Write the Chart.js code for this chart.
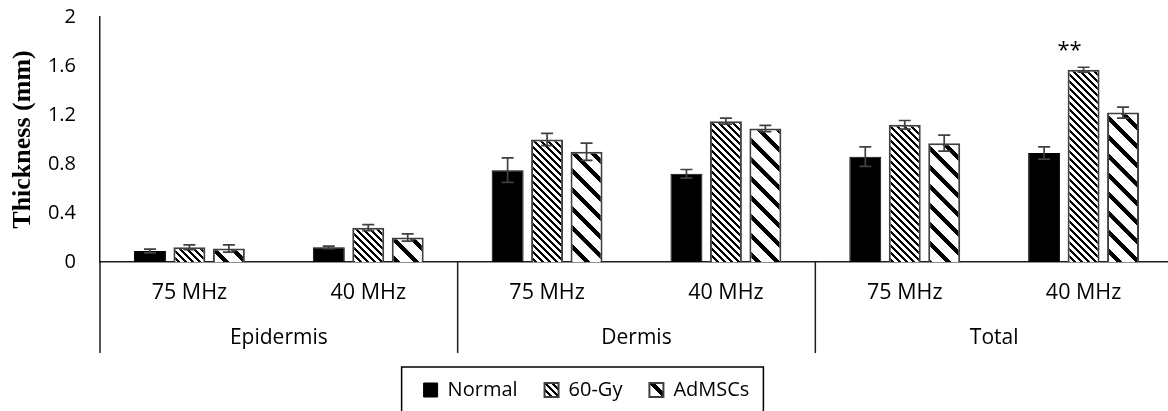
<!DOCTYPE html>
<html>
<head>
<meta charset="utf-8">
<script src="https://cdn.jsdelivr.net/npm/chart.js@4.4.0/dist/chart.umd.min.js"></script>
<style>
  html, body { margin: 0; padding: 0; background: #fff; overflow: hidden; }
  #wrap { width: 1173px; height: 420px; }
</style>
</head>
<body>
<div id="wrap"><canvas id="thick" width="1173" height="420"></canvas></div>
<script>
/* ── data ── */
const subLabels   = ['75 MHz', '40 MHz', '75 MHz', '40 MHz', '75 MHz', '40 MHz'];
const groupLabels = ['Epidermis', 'Dermis', 'Total'];
const yTickLabels = ['0', '0.4', '0.8', '1.2', '1.6', '2'];

const normalVals = [0.09, 0.12, 0.75, 0.72, 0.86, 0.89];
const gyVals     = [0.12, 0.28, 1.00, 1.15, 1.12, 1.57];
const admscVals  = [0.11, 0.20, 0.90, 1.09, 0.97, 1.22];

const normalErr = [0.015, 0.01, 0.10, 0.035, 0.08, 0.05];
const gyErr     = [0.02, 0.025, 0.05, 0.025, 0.035, 0.02];
const admscErr  = [0.03, 0.03, 0.07, 0.025, 0.065, 0.045];

// which bar carries the "**" mark: [dataset, index]
const starMark = [1, 5];

const LINE = '#1e1e1e';
const EDGE = '#404040';
const SANS = "'Open Sans', 'Noto Sans', sans-serif";

/* ── hatch patterns (downward diagonal) ── */
const canvas = document.getElementById('thick');
const mainCtx = canvas.getContext('2d');
function hatch(period, thick) {
  const tile = document.createElement('canvas');
  tile.width = tile.height = period;
  const t = tile.getContext('2d');
  const img = t.createImageData(period, period);
  for (let y = 0; y < period; y++) {
    for (let x = 0; x < period; x++) {
      const k = (((x - y) % period) + period) % period;
      const v = k < thick ? 0 : 255;
      const o = (y * period + x) * 4;
      img.data[o] = img.data[o + 1] = img.data[o + 2] = v;
      img.data[o + 3] = 255;
    }
  }
  t.putImageData(img, 0, 0);
  return mainCtx.createPattern(tile, 'repeat');
}
const densePat = hatch(7, 3);
const widePat  = hatch(19, 6);

/* ── error bars + significance mark ── */
const errorBars = {
  id: 'errorBars',
  afterDatasetsDraw(chart) {
    const ctx = chart.ctx, y = chart.scales.y;
    ctx.save();
    ctx.strokeStyle = EDGE;
    ctx.lineWidth = 1.7;
    chart.data.datasets.forEach((ds, di) => {
      const meta = chart.getDatasetMeta(di);
      meta.data.forEach((bar, i) => {
        const v = ds.data[i], e = ds.errors[i];
        const top = y.getPixelForValue(v + e), bot = y.getPixelForValue(v - e);
        const cx = bar.x, half = 6;
        ctx.beginPath();
        ctx.moveTo(cx, top); ctx.lineTo(cx, bot);
        ctx.moveTo(cx - half, top); ctx.lineTo(cx + half, top);
        ctx.moveTo(cx - half, bot); ctx.lineTo(cx + half, bot);
        ctx.stroke();
      });
    });
    const [sd, si] = starMark;
    const sb = chart.getDatasetMeta(sd).data[si];
    const sds = chart.data.datasets[sd];
    const sy = y.getPixelForValue(sds.data[si] + sds.errors[si]);
    ctx.fillStyle = '#000';
    ctx.font = '22px ' + SANS;
    ctx.textAlign = 'center';
    ctx.textBaseline = 'alphabetic';
    ctx.fillText('**', sb.x - 14, sy - 10);
    ctx.restore();
  }
};

/* ── group separators + legend frame ── */
const frame = {
  id: 'frame',
  afterDraw(chart) {
    const ctx = chart.ctx, x = chart.scales.x, x2 = chart.scales.x2;
    const per = subLabels.length / groupLabels.length;
    const xs = [chart.chartArea.left];
    for (let g = 1; g < groupLabels.length; g++) {
      const i = g * per;
      xs.push((x.getPixelForTick(i - 1) + x.getPixelForTick(i)) / 2);
    }
    ctx.save();
    ctx.strokeStyle = LINE;
    ctx.lineWidth = 1.5;
    xs.forEach(px => {
      ctx.beginPath();
      ctx.moveTo(px, x.top);
      ctx.lineTo(px, x2.bottom);
      ctx.stroke();
    });
    const hb = chart.legend.legendHitBoxes;
    if (hb && hb.length) {
      const l = hb[0].left - 22;
      const last = hb[hb.length - 1];
      const r = last.left + last.width + 14;
      const cy = hb[0].top + hb[0].height / 2;
      ctx.lineWidth = 1.5;
      ctx.strokeStyle = '#000';
      ctx.strokeRect(l, cy - 23, r - l, 60);
    }
    ctx.restore();
  }
};

new Chart(canvas, {
  type: 'bar',
  data: {
    labels: subLabels,
    datasets: [
      { label: 'Normal', data: normalVals, errors: normalErr,
        backgroundColor: '#000', borderColor: '#000', borderWidth: 1 },
      { label: '60-Gy', data: gyVals, errors: gyErr,
        backgroundColor: densePat, borderColor: EDGE, borderWidth: 2 },
      { label: 'AdMSCs', data: admscVals, errors: admscErr,
        backgroundColor: widePat, borderColor: EDGE, borderWidth: 2 }
    ]
  },
  options: {
    responsive: false,
    animation: false,
    categoryPercentage: 0.662,
    barPercentage: 0.81,
    layout: { padding: { top: 17, left: 0, right: 0, bottom: 10 } },
    plugins: {
      tooltip: { enabled: false },
      legend: {
        position: 'bottom',
        labels: { color: '#000', font: { family: SANS, size: 20 }, boxWidth: 14, boxHeight: 14, padding: 27 }
      }
    },
    scales: {
      y: {
        min: 0, max: 2,
        // fixed width; drop the tick-padding that Chart.js adds above the top label
        afterFit: s => { s.width = 100; s.paddingTop = 0; s.paddingBottom = 0; },
        grid: { display: false, drawTicks: false },
        border: { display: true, color: LINE, width: 1.5 },
        ticks: {
          stepSize: 0.4, padding: 24, color: '#000',
          font: { family: SANS, size: 20 },
          callback: (v, i) => yTickLabels[i]
        },
        title: {
          display: true, text: 'Thickness (mm)', color: '#000',
          font: { family: "'Liberation Serif', 'Times New Roman', serif", size: 26, weight: 'bold' },
          padding: { top: 8, bottom: 0 }
        }
      },
      x: {
        afterFit: s => { s.height = 49; },
        grid: { display: false, drawTicks: false },
        border: { display: true, color: LINE, width: 1.5 },
        ticks: { padding: 18, color: '#000', maxRotation: 0, autoSkip: false, font: { family: SANS, size: 21.5 } }
      },
      x2: {
        type: 'category', labels: groupLabels, position: 'bottom', offset: true, weight: 1,
        afterFit: s => { s.height = 42; },
        grid: { display: false, drawTicks: false },
        border: { display: false },
        ticks: { padding: 14, color: '#000', maxRotation: 0, autoSkip: false, font: { family: SANS, size: 21 } }
      }
    }
  },
  plugins: [errorBars, frame]
});
</script>
</body>
</html>
